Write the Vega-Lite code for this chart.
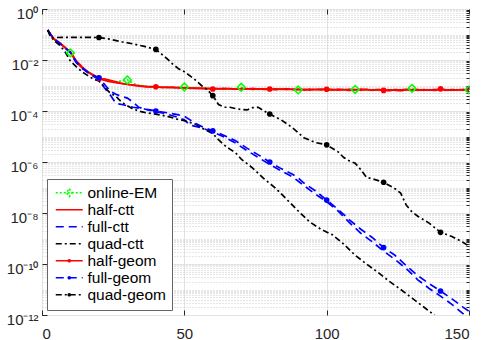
{
"$schema":"https://vega.github.io/schema/vega-lite/v6.json",
"width":427,"height":306,
"autosize":"none",
"padding":{"left":42,"top":9,"right":13,"bottom":25},
"background":"white",
"config":{"view":{"stroke":"#262626","strokeWidth":1},"font":"Liberation Sans","axis":{"labelFont":"Liberation Sans","labelFontSize":15,"labelColor":"#262626","tickColor":"#262626","domain":false}},
"datasets":{"curves":[
{"series":"online-EM","x":2,"y":0.15},{"series":"online-EM","x":4,"y":0.066},{"series":"online-EM","x":6,"y":0.046},{"series":"online-EM","x":8,"y":0.033},{"series":"online-EM","x":10,"y":0.019},{"series":"online-EM","x":12,"y":0.0092},{"series":"online-EM","x":14,"y":0.0053},{"series":"online-EM","x":16,"y":0.0036},{"series":"online-EM","x":18,"y":0.0026},{"series":"online-EM","x":20,"y":0.0019},{"series":"online-EM","x":22,"y":0.0017},{"series":"online-EM","x":24,"y":0.0015},{"series":"online-EM","x":26,"y":0.0014},{"series":"online-EM","x":28,"y":0.0015},{"series":"online-EM","x":30,"y":0.00166},{"series":"online-EM","x":32,"y":0.0012},{"series":"online-EM","x":34,"y":0.00102},{"series":"online-EM","x":36,"y":0.00096},{"series":"online-EM","x":38,"y":0.00091},{"series":"online-EM","x":40,"y":0.00088},{"series":"online-EM","x":42,"y":0.00087},{"series":"online-EM","x":44,"y":0.00085},{"series":"online-EM","x":46,"y":0.0008},{"series":"online-EM","x":48,"y":0.00083},{"series":"online-EM","x":50,"y":0.00087},{"series":"online-EM","x":52,"y":0.0008},{"series":"online-EM","x":54,"y":0.00077},{"series":"online-EM","x":56,"y":0.00079},{"series":"online-EM","x":58,"y":0.00075},{"series":"online-EM","x":60,"y":0.00076},{"series":"online-EM","x":62,"y":0.00074},{"series":"online-EM","x":64,"y":0.00075},{"series":"online-EM","x":66,"y":0.00072},{"series":"online-EM","x":68,"y":0.00074},{"series":"online-EM","x":70,"y":0.00085},{"series":"online-EM","x":72,"y":0.00071},{"series":"online-EM","x":74,"y":0.00073},{"series":"online-EM","x":76,"y":0.0007},{"series":"online-EM","x":78,"y":0.00072},{"series":"online-EM","x":80,"y":0.0007},{"series":"online-EM","x":82,"y":0.00072},{"series":"online-EM","x":84,"y":0.00069},{"series":"online-EM","x":86,"y":0.00072},{"series":"online-EM","x":88,"y":0.0007},{"series":"online-EM","x":90,"y":0.00067},{"series":"online-EM","x":92,"y":0.0007},{"series":"online-EM","x":94,"y":0.00068},{"series":"online-EM","x":96,"y":0.00071},{"series":"online-EM","x":98,"y":0.00068},{"series":"online-EM","x":100,"y":0.0007},{"series":"online-EM","x":102,"y":0.00069},{"series":"online-EM","x":104,"y":0.00067},{"series":"online-EM","x":106,"y":0.0007},{"series":"online-EM","x":108,"y":0.00068},{"series":"online-EM","x":110,"y":0.0007},{"series":"online-EM","x":112,"y":0.00068},{"series":"online-EM","x":114,"y":0.00066},{"series":"online-EM","x":116,"y":0.00069},{"series":"online-EM","x":118,"y":0.00067},{"series":"online-EM","x":120,"y":0.00069},{"series":"online-EM","x":122,"y":0.00066},{"series":"online-EM","x":124,"y":0.00068},{"series":"online-EM","x":126,"y":0.00066},{"series":"online-EM","x":128,"y":0.0007},{"series":"online-EM","x":130,"y":0.00077},{"series":"online-EM","x":132,"y":0.00068},{"series":"online-EM","x":134,"y":0.00066},{"series":"online-EM","x":136,"y":0.00068},{"series":"online-EM","x":138,"y":0.00066},{"series":"online-EM","x":140,"y":0.00069},{"series":"online-EM","x":142,"y":0.00067},{"series":"online-EM","x":144,"y":0.00068},{"series":"online-EM","x":146,"y":0.00066},{"series":"online-EM","x":148,"y":0.00068},{"series":"online-EM","x":150,"y":0.00067},
{"series":"half-ctt","x":2,"y":0.15},{"series":"half-ctt","x":4,"y":0.068},{"series":"half-ctt","x":6,"y":0.047},{"series":"half-ctt","x":8,"y":0.031},{"series":"half-ctt","x":10,"y":0.02},{"series":"half-ctt","x":12,"y":0.0082},{"series":"half-ctt","x":14,"y":0.005},{"series":"half-ctt","x":16,"y":0.0034},{"series":"half-ctt","x":18,"y":0.0025},{"series":"half-ctt","x":20,"y":0.0018},{"series":"half-ctt","x":22,"y":0.0016},{"series":"half-ctt","x":24,"y":0.0014},{"series":"half-ctt","x":26,"y":0.00128},{"series":"half-ctt","x":28,"y":0.0012},{"series":"half-ctt","x":30,"y":0.00112},{"series":"half-ctt","x":32,"y":0.00102},{"series":"half-ctt","x":34,"y":0.00095},{"series":"half-ctt","x":36,"y":0.0009},{"series":"half-ctt","x":38,"y":0.00087},{"series":"half-ctt","x":40,"y":0.00089},{"series":"half-ctt","x":42,"y":0.00084},{"series":"half-ctt","x":44,"y":0.00086},{"series":"half-ctt","x":46,"y":0.00082},{"series":"half-ctt","x":48,"y":0.00084},{"series":"half-ctt","x":50,"y":0.00079},{"series":"half-ctt","x":52,"y":0.00081},{"series":"half-ctt","x":54,"y":0.00076},{"series":"half-ctt","x":56,"y":0.00079},{"series":"half-ctt","x":58,"y":0.00074},{"series":"half-ctt","x":60,"y":0.00077},{"series":"half-ctt","x":62,"y":0.00073},{"series":"half-ctt","x":64,"y":0.00078},{"series":"half-ctt","x":66,"y":0.00074},{"series":"half-ctt","x":68,"y":0.00071},{"series":"half-ctt","x":70,"y":0.00076},{"series":"half-ctt","x":72,"y":0.00072},{"series":"half-ctt","x":74,"y":0.00077},{"series":"half-ctt","x":76,"y":0.00071},{"series":"half-ctt","x":78,"y":0.00074},{"series":"half-ctt","x":80,"y":0.00069},{"series":"half-ctt","x":82,"y":0.00074},{"series":"half-ctt","x":84,"y":0.00071},{"series":"half-ctt","x":86,"y":0.00075},{"series":"half-ctt","x":88,"y":0.00069},{"series":"half-ctt","x":90,"y":0.00072},{"series":"half-ctt","x":92,"y":0.00066},{"series":"half-ctt","x":94,"y":0.00072},{"series":"half-ctt","x":96,"y":0.00069},{"series":"half-ctt","x":98,"y":0.00073},{"series":"half-ctt","x":100,"y":0.00069},{"series":"half-ctt","x":102,"y":0.00066},{"series":"half-ctt","x":104,"y":0.00072},{"series":"half-ctt","x":106,"y":0.00068},{"series":"half-ctt","x":108,"y":0.00071},{"series":"half-ctt","x":110,"y":0.00067},{"series":"half-ctt","x":112,"y":0.00072},{"series":"half-ctt","x":114,"y":0.00069},{"series":"half-ctt","x":116,"y":0.00066},{"series":"half-ctt","x":118,"y":0.0007},{"series":"half-ctt","x":120,"y":0.00066},{"series":"half-ctt","x":122,"y":0.00062},{"series":"half-ctt","x":124,"y":0.00069},{"series":"half-ctt","x":126,"y":0.00067},{"series":"half-ctt","x":128,"y":0.0007},{"series":"half-ctt","x":130,"y":0.00068},{"series":"half-ctt","x":132,"y":0.00065},{"series":"half-ctt","x":134,"y":0.00069},{"series":"half-ctt","x":136,"y":0.00066},{"series":"half-ctt","x":138,"y":0.0007},{"series":"half-ctt","x":140,"y":0.00068},{"series":"half-ctt","x":142,"y":0.00065},{"series":"half-ctt","x":144,"y":0.00069},{"series":"half-ctt","x":146,"y":0.00067},{"series":"half-ctt","x":148,"y":0.0007},{"series":"half-ctt","x":150,"y":0.00066},
{"series":"full-ctt","x":2,"y":0.15},{"series":"full-ctt","x":4,"y":0.068},{"series":"full-ctt","x":6,"y":0.047},{"series":"full-ctt","x":8,"y":0.03},{"series":"full-ctt","x":10,"y":0.019},{"series":"full-ctt","x":12,"y":0.008},{"series":"full-ctt","x":14,"y":0.0048},{"series":"full-ctt","x":16,"y":0.0033},{"series":"full-ctt","x":18,"y":0.0023},{"series":"full-ctt","x":20,"y":0.0017},{"series":"full-ctt","x":22,"y":0.0008},{"series":"full-ctt","x":24,"y":0.00042},{"series":"full-ctt","x":26,"y":0.0002},{"series":"full-ctt","x":28,"y":0.00018},{"series":"full-ctt","x":30,"y":0.00016},{"series":"full-ctt","x":32,"y":0.00014},{"series":"full-ctt","x":34,"y":0.00013},{"series":"full-ctt","x":36,"y":0.00012},{"series":"full-ctt","x":38,"y":0.000105},{"series":"full-ctt","x":40,"y":0.000095},{"series":"full-ctt","x":44,"y":0.000075},{"series":"full-ctt","x":48,"y":0.000055},{"series":"full-ctt","x":50,"y":0.000045},{"series":"full-ctt","x":52,"y":0.000028},{"series":"full-ctt","x":56,"y":0.000022},{"series":"full-ctt","x":60,"y":0.000015},{"series":"full-ctt","x":64,"y":0.0000095},{"series":"full-ctt","x":68,"y":0.0000055},{"series":"full-ctt","x":72,"y":0.0000028},{"series":"full-ctt","x":76,"y":0.0000015},{"series":"full-ctt","x":80,"y":8e-7},{"series":"full-ctt","x":84,"y":4.5e-7},{"series":"full-ctt","x":88,"y":2.6e-7},{"series":"full-ctt","x":92,"y":1.2e-7},{"series":"full-ctt","x":96,"y":5.5e-8},{"series":"full-ctt","x":100,"y":2.8e-8},{"series":"full-ctt","x":104,"y":1.2e-8},{"series":"full-ctt","x":108,"y":4.2e-9},{"series":"full-ctt","x":112,"y":1.6e-9},{"series":"full-ctt","x":116,"y":7.5e-10},{"series":"full-ctt","x":120,"y":3.2e-10},{"series":"full-ctt","x":124,"y":1.5e-10},{"series":"full-ctt","x":128,"y":6.5e-11},{"series":"full-ctt","x":132,"y":2.4e-11},{"series":"full-ctt","x":136,"y":1.1e-11},{"series":"full-ctt","x":140,"y":5.5e-12},{"series":"full-ctt","x":144,"y":2.6e-12},{"series":"full-ctt","x":148,"y":1.1e-12},{"series":"full-ctt","x":150,"y":7e-13},
{"series":"quad-ctt","x":2,"y":0.15},{"series":"quad-ctt","x":4,"y":0.06},{"series":"quad-ctt","x":6,"y":0.04},{"series":"quad-ctt","x":8,"y":0.022},{"series":"quad-ctt","x":10,"y":0.009},{"series":"quad-ctt","x":12,"y":0.0055},{"series":"quad-ctt","x":14,"y":0.0035},{"series":"quad-ctt","x":16,"y":0.0025},{"series":"quad-ctt","x":18,"y":0.0018},{"series":"quad-ctt","x":20,"y":0.0015},{"series":"quad-ctt","x":22,"y":0.00085},{"series":"quad-ctt","x":24,"y":0.0005},{"series":"quad-ctt","x":26,"y":0.00037},{"series":"quad-ctt","x":28,"y":0.00022},{"series":"quad-ctt","x":30,"y":0.00016},{"series":"quad-ctt","x":32,"y":0.00012},{"series":"quad-ctt","x":34,"y":0.0001},{"series":"quad-ctt","x":36,"y":0.000088},{"series":"quad-ctt","x":38,"y":0.000081},{"series":"quad-ctt","x":40,"y":0.000075},{"series":"quad-ctt","x":44,"y":0.000062},{"series":"quad-ctt","x":48,"y":0.000046},{"series":"quad-ctt","x":50,"y":0.000042},{"series":"quad-ctt","x":54,"y":0.00003},{"series":"quad-ctt","x":56,"y":0.000022},{"series":"quad-ctt","x":58,"y":0.000017},{"series":"quad-ctt","x":60,"y":0.000013},{"series":"quad-ctt","x":62,"y":0.0000075},{"series":"quad-ctt","x":64,"y":0.0000046},{"series":"quad-ctt","x":66,"y":0.0000032},{"series":"quad-ctt","x":68,"y":0.0000023},{"series":"quad-ctt","x":70,"y":0.0000013},{"series":"quad-ctt","x":74,"y":5.8e-7},{"series":"quad-ctt","x":78,"y":2.2e-7},{"series":"quad-ctt","x":82,"y":9.5e-8},{"series":"quad-ctt","x":86,"y":3.4e-8},{"series":"quad-ctt","x":90,"y":1.2e-8},{"series":"quad-ctt","x":94,"y":4.5e-9},{"series":"quad-ctt","x":98,"y":2.3e-9},{"series":"quad-ctt","x":102,"y":1.4e-9},{"series":"quad-ctt","x":106,"y":6e-10},{"series":"quad-ctt","x":110,"y":2.2e-10},{"series":"quad-ctt","x":114,"y":1e-10},{"series":"quad-ctt","x":118,"y":4.7e-11},{"series":"quad-ctt","x":122,"y":2.1e-11},{"series":"quad-ctt","x":126,"y":1e-11},{"series":"quad-ctt","x":130,"y":4.6e-12},{"series":"quad-ctt","x":134,"y":2.1e-12},{"series":"quad-ctt","x":138,"y":9.5e-13},{"series":"quad-ctt","x":142,"y":4.4e-13},{"series":"quad-ctt","x":146,"y":2e-13},{"series":"quad-ctt","x":150,"y":1e-13},
{"series":"half-geom","x":2,"y":0.15},{"series":"half-geom","x":4,"y":0.07},{"series":"half-geom","x":6,"y":0.05},{"series":"half-geom","x":8,"y":0.032},{"series":"half-geom","x":10,"y":0.021},{"series":"half-geom","x":12,"y":0.0095},{"series":"half-geom","x":14,"y":0.0055},{"series":"half-geom","x":16,"y":0.0035},{"series":"half-geom","x":18,"y":0.0026},{"series":"half-geom","x":20,"y":0.0019},{"series":"half-geom","x":22,"y":0.0018},{"series":"half-geom","x":24,"y":0.0016},{"series":"half-geom","x":26,"y":0.0014},{"series":"half-geom","x":28,"y":0.0012},{"series":"half-geom","x":30,"y":0.0011},{"series":"half-geom","x":32,"y":0.00105},{"series":"half-geom","x":34,"y":0.00098},{"series":"half-geom","x":36,"y":0.00092},{"series":"half-geom","x":38,"y":0.0009},{"series":"half-geom","x":40,"y":0.00089},{"series":"half-geom","x":42,"y":0.00085},{"series":"half-geom","x":44,"y":0.00083},{"series":"half-geom","x":46,"y":0.00087},{"series":"half-geom","x":48,"y":0.0008},{"series":"half-geom","x":50,"y":0.00082},{"series":"half-geom","x":52,"y":0.00077},{"series":"half-geom","x":54,"y":0.0008},{"series":"half-geom","x":56,"y":0.00075},{"series":"half-geom","x":58,"y":0.00078},{"series":"half-geom","x":60,"y":0.00073},{"series":"half-geom","x":62,"y":0.00076},{"series":"half-geom","x":64,"y":0.00072},{"series":"half-geom","x":66,"y":0.00076},{"series":"half-geom","x":68,"y":0.00073},{"series":"half-geom","x":70,"y":0.0007},{"series":"half-geom","x":72,"y":0.00075},{"series":"half-geom","x":74,"y":0.0007},{"series":"half-geom","x":76,"y":0.00074},{"series":"half-geom","x":78,"y":0.0007},{"series":"half-geom","x":80,"y":0.00073},{"series":"half-geom","x":82,"y":0.00068},{"series":"half-geom","x":84,"y":0.00073},{"series":"half-geom","x":86,"y":0.00069},{"series":"half-geom","x":88,"y":0.00072},{"series":"half-geom","x":90,"y":0.00068},{"series":"half-geom","x":92,"y":0.00071},{"series":"half-geom","x":94,"y":0.00066},{"series":"half-geom","x":96,"y":0.0007},{"series":"half-geom","x":98,"y":0.00067},{"series":"half-geom","x":100,"y":0.00071},{"series":"half-geom","x":102,"y":0.0007},{"series":"half-geom","x":104,"y":0.00066},{"series":"half-geom","x":106,"y":0.00069},{"series":"half-geom","x":108,"y":0.00064},{"series":"half-geom","x":110,"y":0.00069},{"series":"half-geom","x":112,"y":0.00066},{"series":"half-geom","x":114,"y":0.0007},{"series":"half-geom","x":116,"y":0.00065},{"series":"half-geom","x":118,"y":0.00068},{"series":"half-geom","x":120,"y":0.00064},{"series":"half-geom","x":122,"y":0.00068},{"series":"half-geom","x":124,"y":0.00065},{"series":"half-geom","x":126,"y":0.00062},{"series":"half-geom","x":128,"y":0.00067},{"series":"half-geom","x":130,"y":0.00066},{"series":"half-geom","x":132,"y":0.00069},{"series":"half-geom","x":134,"y":0.00065},{"series":"half-geom","x":136,"y":0.00068},{"series":"half-geom","x":138,"y":0.00064},{"series":"half-geom","x":140,"y":0.00074},{"series":"half-geom","x":142,"y":0.00067},{"series":"half-geom","x":144,"y":0.00065},{"series":"half-geom","x":146,"y":0.00068},{"series":"half-geom","x":148,"y":0.00066},{"series":"half-geom","x":150,"y":0.00068},
{"series":"full-geom","x":2,"y":0.15},{"series":"full-geom","x":4,"y":0.07},{"series":"full-geom","x":6,"y":0.048},{"series":"full-geom","x":8,"y":0.031},{"series":"full-geom","x":10,"y":0.02},{"series":"full-geom","x":12,"y":0.0085},{"series":"full-geom","x":14,"y":0.005},{"series":"full-geom","x":16,"y":0.0034},{"series":"full-geom","x":18,"y":0.0025},{"series":"full-geom","x":20,"y":0.002},{"series":"full-geom","x":22,"y":0.0011},{"series":"full-geom","x":24,"y":0.0006},{"series":"full-geom","x":26,"y":0.00045},{"series":"full-geom","x":28,"y":0.00037},{"series":"full-geom","x":30,"y":0.00032},{"series":"full-geom","x":32,"y":0.00022},{"series":"full-geom","x":34,"y":0.00014},{"series":"full-geom","x":36,"y":0.00012},{"series":"full-geom","x":38,"y":0.00011},{"series":"full-geom","x":40,"y":0.0001},{"series":"full-geom","x":44,"y":0.000085},{"series":"full-geom","x":48,"y":0.00007},{"series":"full-geom","x":50,"y":0.000062},{"series":"full-geom","x":52,"y":0.000045},{"series":"full-geom","x":54,"y":0.000032},{"series":"full-geom","x":56,"y":0.000025},{"series":"full-geom","x":60,"y":0.0000166},{"series":"full-geom","x":64,"y":0.000011},{"series":"full-geom","x":68,"y":0.0000068},{"series":"full-geom","x":72,"y":0.0000035},{"series":"full-geom","x":76,"y":0.0000019},{"series":"full-geom","x":80,"y":0.000001},{"series":"full-geom","x":84,"y":5.5e-7},{"series":"full-geom","x":88,"y":3.3e-7},{"series":"full-geom","x":90,"y":2.4e-7},{"series":"full-geom","x":92,"y":1.5e-7},{"series":"full-geom","x":96,"y":7.5e-8},{"series":"full-geom","x":100,"y":3.2e-8},{"series":"full-geom","x":104,"y":1.4e-8},{"series":"full-geom","x":108,"y":5.4e-9},{"series":"full-geom","x":112,"y":2.3e-9},{"series":"full-geom","x":116,"y":1.1e-9},{"series":"full-geom","x":120,"y":4.4e-10},{"series":"full-geom","x":124,"y":2.2e-10},{"series":"full-geom","x":128,"y":8.5e-11},{"series":"full-geom","x":132,"y":3.5e-11},{"series":"full-geom","x":136,"y":1.7e-11},{"series":"full-geom","x":140,"y":8.7e-12},{"series":"full-geom","x":144,"y":4.3e-12},{"series":"full-geom","x":148,"y":2e-12},{"series":"full-geom","x":150,"y":1.4e-12},
{"series":"quad-geom","x":2,"y":0.15},{"series":"quad-geom","x":3,"y":0.08},{"series":"quad-geom","x":4,"y":0.076},{"series":"quad-geom","x":8,"y":0.077},{"series":"quad-geom","x":12,"y":0.077},{"series":"quad-geom","x":16,"y":0.077},{"series":"quad-geom","x":20,"y":0.076},{"series":"quad-geom","x":24,"y":0.065},{"series":"quad-geom","x":28,"y":0.052},{"series":"quad-geom","x":32,"y":0.043},{"series":"quad-geom","x":36,"y":0.034},{"series":"quad-geom","x":40,"y":0.026},{"series":"quad-geom","x":42,"y":0.017},{"series":"quad-geom","x":44,"y":0.011},{"series":"quad-geom","x":46,"y":0.0068},{"series":"quad-geom","x":48,"y":0.0045},{"series":"quad-geom","x":50,"y":0.0035},{"series":"quad-geom","x":52,"y":0.0024},{"series":"quad-geom","x":54,"y":0.0016},{"series":"quad-geom","x":56,"y":0.001},{"series":"quad-geom","x":58,"y":0.0007},{"series":"quad-geom","x":60,"y":0.0004},{"series":"quad-geom","x":62,"y":0.00018},{"series":"quad-geom","x":64,"y":0.00014},{"series":"quad-geom","x":66,"y":0.00014},{"series":"quad-geom","x":68,"y":0.000125},{"series":"quad-geom","x":70,"y":0.000115},{"series":"quad-geom","x":72,"y":0.00011},{"series":"quad-geom","x":74,"y":0.000135},{"series":"quad-geom","x":76,"y":0.00014},{"series":"quad-geom","x":78,"y":0.0001},{"series":"quad-geom","x":80,"y":0.000076},{"series":"quad-geom","x":84,"y":0.000045},{"series":"quad-geom","x":88,"y":0.000022},{"series":"quad-geom","x":92,"y":0.000009},{"series":"quad-geom","x":96,"y":0.0000058},{"series":"quad-geom","x":100,"y":0.0000047},{"series":"quad-geom","x":104,"y":0.0000025},{"series":"quad-geom","x":106,"y":0.0000015},{"series":"quad-geom","x":108,"y":0.0000011},{"series":"quad-geom","x":110,"y":9e-7},{"series":"quad-geom","x":112,"y":5e-7},{"series":"quad-geom","x":114,"y":2.5e-7},{"series":"quad-geom","x":116,"y":2.2e-7},{"series":"quad-geom","x":120,"y":1.6e-7},{"series":"quad-geom","x":124,"y":9e-8},{"series":"quad-geom","x":126,"y":6e-8},{"series":"quad-geom","x":128,"y":2e-8},{"series":"quad-geom","x":130,"y":1.1e-8},{"series":"quad-geom","x":132,"y":7.5e-9},{"series":"quad-geom","x":136,"y":4e-9},{"series":"quad-geom","x":140,"y":1.75e-9},{"series":"quad-geom","x":144,"y":1.2e-9},{"series":"quad-geom","x":148,"y":7e-10},{"series":"quad-geom","x":150,"y":5e-10}
]},
"data":{"name":"curves"},
"layer":[
{"transform":[{"filter":"false"}],
 "mark":{"type":"point","filled":false,"opacity":1,"strokeWidth":1.7},
 "encoding":{
  "x":{"field":"x","type":"quantitative","scale":{"domain":[0,150],"nice":false,"zero":false},"axis":{"orient":"top","values":[0,50,100,150],"labels":false,"grid":false,"tickSize":-5,"title":null}},
  "y":{"field":"y","type":"quantitative","scale":{"type":"log","domain":[1e-12,1],"nice":false},"axis":{"orient":"right","values":[2e-12,3e-12,4e-12,5e-12,6e-12,7e-12,8e-12,9e-12,1e-11,2e-11,3e-11,4e-11,5e-11,6e-11,7e-11,8e-11,9e-11,2e-10,3e-10,4e-10,5e-10,6e-10,7e-10,8e-10,9e-10,1e-9,2e-9,3e-9,4e-9,5e-9,6e-9,7e-9,8e-9,9e-9,2e-8,3e-8,4e-8,5e-8,6e-8,7e-8,8e-8,9e-8,1e-7,2e-7,3e-7,4e-7,5e-7,6e-7,7e-7,8e-7,9e-7,2e-6,3e-6,4e-6,5e-6,6e-6,7e-6,8e-6,9e-6,1e-5,2e-5,3e-5,4e-5,5e-5,6e-5,7e-5,8e-5,9e-5,2e-4,3e-4,4e-4,5e-4,6e-4,7e-4,8e-4,9e-4,1e-3,2e-3,3e-3,4e-3,5e-3,6e-3,7e-3,8e-3,9e-3,2e-2,3e-2,4e-2,5e-2,6e-2,7e-2,8e-2,9e-2,0.1,0.2,0.3,0.4,0.5,0.6,0.7,0.8,0.9],"labels":false,"grid":true,"gridDash":[1,2],"gridColor":"#cccccc","tickSize":-3,"title":null}},
  "color":{"field":"series","type":"nominal","scale":{"domain":["online-EM","half-ctt","full-ctt","quad-ctt","half-geom","full-geom","quad-geom"],"range":["#00ff00","#ff0000","#0000ff","#000000","#ff0000","#0000ff","#000000"]},
   "legend":{"title":null,"orient":"bottom-left","offset":5,"padding":6,"fillColor":"white","strokeColor":"#666666","labelFont":"Liberation Sans","labelFontSize":15.5,"labelColor":"#000000","symbolSize":100,"symbolStrokeWidth":1.7,"symbolOpacity":1,"symbolFillColor":"transparent","rowPadding":0,"labelOffset":19}},
  "strokeDash":{"field":"series","type":"nominal","scale":{"domain":["online-EM","half-ctt","full-ctt","quad-ctt","half-geom","full-geom","quad-geom"],"range":[[2,2],[1,0],[8,5],[6,3,2,3],[1,0],[8,5],[6,3,2,3]]},
   "legend":{"title":null,"orient":"bottom-left","offset":5,"padding":6,"fillColor":"white","strokeColor":"#666666","labelFont":"Liberation Sans","labelFontSize":15.5,"labelColor":"#000000","symbolSize":100,"symbolStrokeWidth":1.7,"symbolOpacity":1,"symbolFillColor":"transparent","rowPadding":0,"labelOffset":19}},
  "shape":{"field":"series","type":"nominal","scale":{"domain":["online-EM","half-ctt","full-ctt","quad-ctt","half-geom","full-geom","quad-geom"],"range":["M-1,0H4.4M1.7,-0.78L2.28,0L1.7,0.78L1.12,0Z","M-1,0H4.4","M-1,0H4.4","M-1,0H4.4","M-1,0H4.4M1.5,0A0.2,0.2,0,1,0,1.9,0A0.2,0.2,0,1,0,1.5,0","M-1,0H4.4M1.5,0A0.2,0.2,0,1,0,1.9,0A0.2,0.2,0,1,0,1.5,0","M-1,0H4.4M1.5,0A0.2,0.2,0,1,0,1.9,0A0.2,0.2,0,1,0,1.5,0"]},
   "legend":{"title":null,"orient":"bottom-left","offset":5,"padding":6,"fillColor":"white","strokeColor":"#666666","labelFont":"Liberation Sans","labelFontSize":15.5,"labelColor":"#000000","symbolSize":100,"symbolStrokeWidth":1.7,"symbolOpacity":1,"symbolFillColor":"transparent","rowPadding":0,"labelOffset":19}}
 }},
{"mark":{"type":"line","strokeWidth":1.7,"clip":true},
 "encoding":{
  "x":{"field":"x","type":"quantitative","axis":{"orient":"bottom","values":[0,50,100,150],"grid":true,"gridColor":"#e3e3e3","tickSize":-5,"labelPadding":16,"title":null}},
  "y":{"field":"y","type":"quantitative","axis":{"orient":"left","values":[1e-12,1e-10,1e-8,1e-6,1e-4,1e-2,1],"grid":true,"gridColor":"#e3e3e3","tickSize":-5,"labelPadding":9,"labelOffset":4,"title":null,"labelExpr":"datum.value > 0.5 ? '10⁰' : datum.value > 5e-3 ? '10⁻²' : datum.value > 5e-5 ? '10⁻⁴' : datum.value > 5e-7 ? '10⁻⁶' : datum.value > 5e-9 ? '10⁻⁸' : datum.value > 5e-11 ? '10⁻¹⁰' : '10⁻¹²'"}},
  "color":{"field":"series","type":"nominal"},
  "strokeDash":{"field":"series","type":"nominal"}
 }},
{"transform":[{"filter":"datum.x % 20 == 0 && (datum.series == 'half-geom' || datum.series == 'full-geom' || datum.series == 'quad-geom')"}],
 "mark":{"type":"point","shape":"circle","filled":true,"size":32,"opacity":1,"clip":true},
 "encoding":{
  "x":{"field":"x","type":"quantitative","axis":null},
  "y":{"field":"y","type":"quantitative","axis":null},
  "fill":{"field":"series","type":"nominal","scale":{"domain":["half-geom","full-geom","quad-geom"],"range":["#ff0000","#0000ff","#000000"]},"legend":null}
 }},
{"transform":[{"filter":"datum.series == 'online-EM' && datum.x % 20 == 10"}],
 "mark":{"type":"point","shape":"diamond","filled":false,"size":60,"strokeWidth":1.5,"opacity":1,"clip":true,"stroke":"#00ff00"},
 "encoding":{
  "x":{"field":"x","type":"quantitative","axis":null},
  "y":{"field":"y","type":"quantitative","axis":null}
 }}
],
"resolve":{"axis":{"x":"independent","y":"independent"}}
}
